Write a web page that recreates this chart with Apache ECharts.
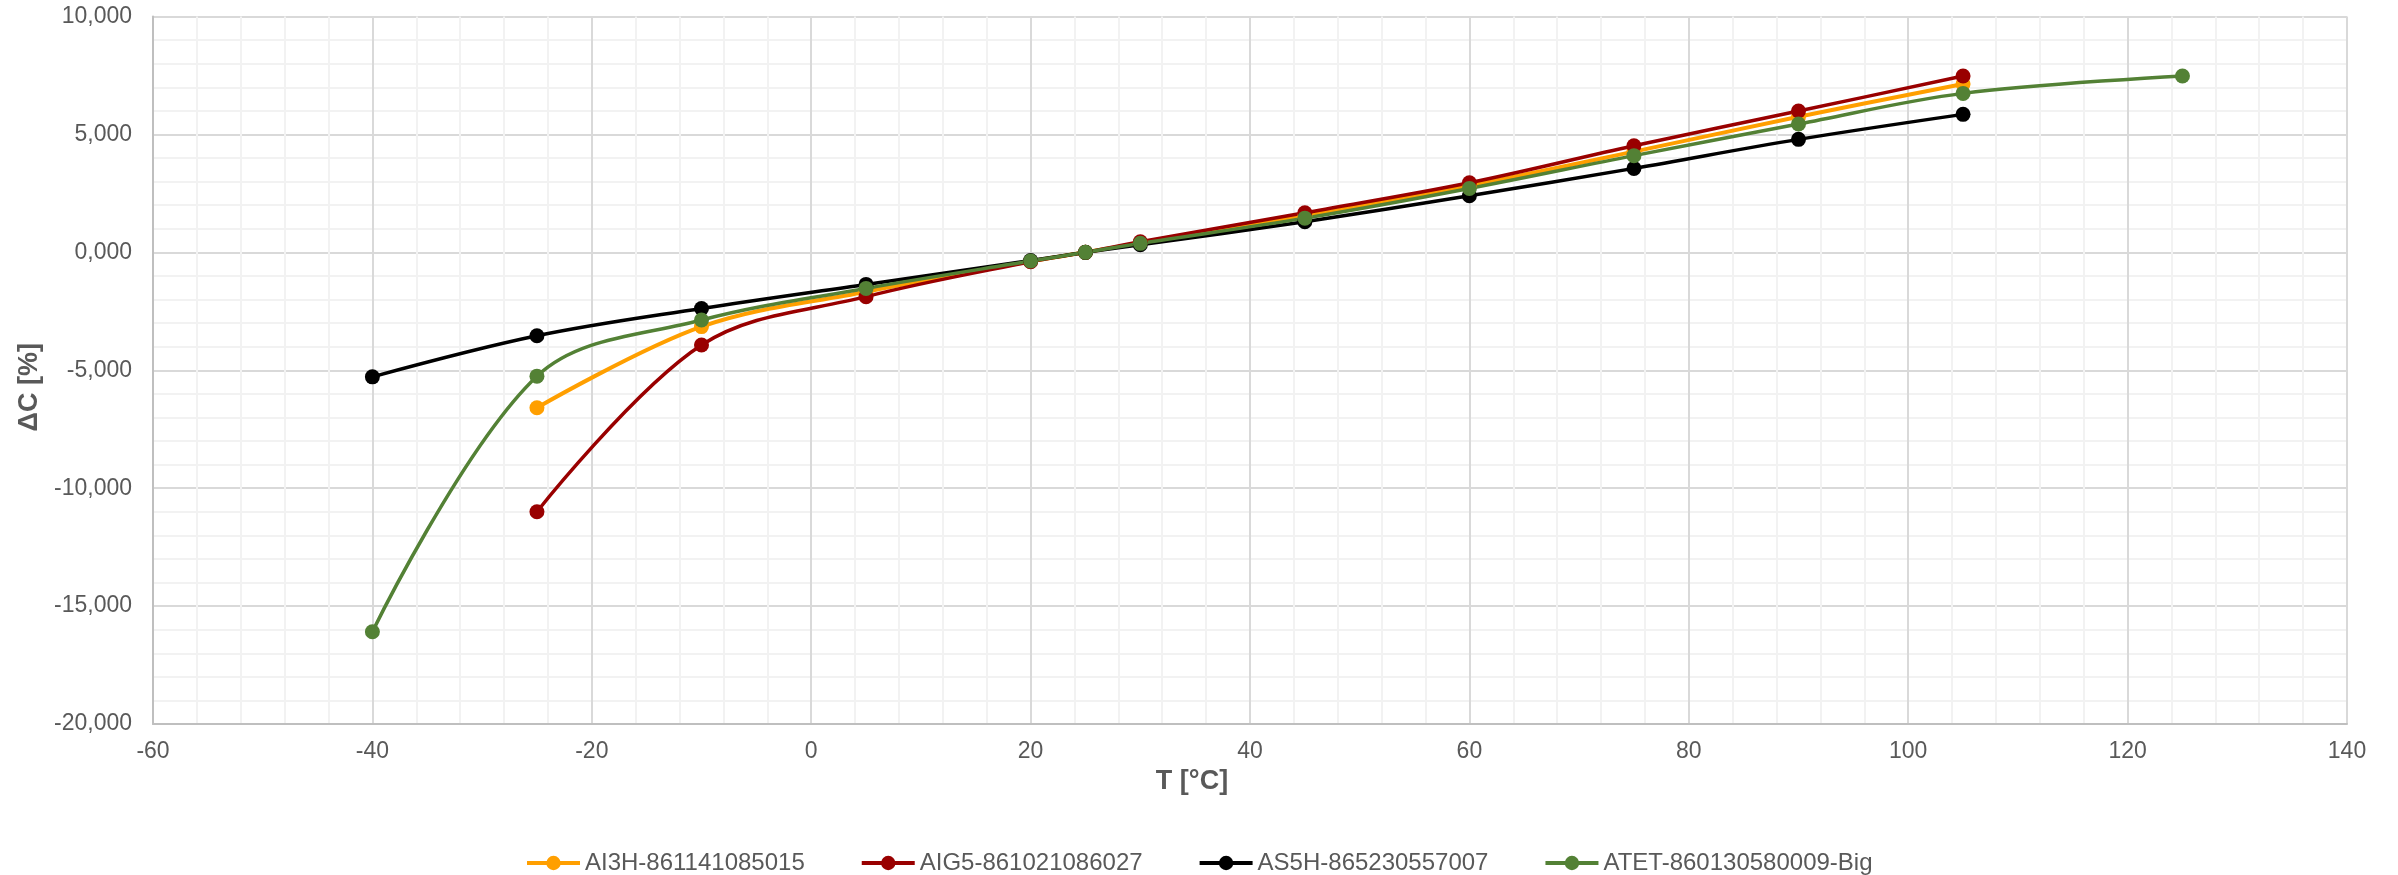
<!DOCTYPE html>
<html>
<head>
<meta charset="utf-8">
<script src="https://cdn.jsdelivr.net/npm/echarts@6/dist/echarts.min.js"></script>
<style>html,body{margin:0;padding:0;background:#fff;}#c{width:2398px;height:875px;}</style>
</head>
<body>
<div id="c"></div>
<script>
// Data (T in °C, ΔC in %)
const seriesNames = ['AI3H-861141085015', 'AIG5-861021086027', 'AS5H-865230557007', 'ATET-860130580009-Big'];
const tempsAI3H = [-25, -10, 5, 20, 25, 30, 45, 60, 75, 90, 105];
const valsAI3H  = [-6.59, -3.15, -1.67, -0.38, 0, 0.40, 1.55, 2.83, 4.27, 5.75, 7.14];
const tempsAIG5 = [-25, -10, 5, 20, 25, 30, 45, 60, 75, 90, 105];
const valsAIG5  = [-11.0, -3.93, -1.88, -0.40, 0, 0.45, 1.68, 2.95, 4.52, 5.99, 7.48];
const tempsAS5H = [-40, -25, -10, 5, 20, 25, 30, 45, 60, 75, 90, 105];
const valsAS5H  = [-5.28, -3.54, -2.38, -1.36, -0.35, 0, 0.32, 1.30, 2.40, 3.56, 4.79, 5.85];
const tempsATET = [-40, -25, -10, 5, 20, 25, 30, 45, 60, 75, 90, 105, 125];
const valsATET  = [-16.09, -5.25, -2.87, -1.53, -0.37, 0, 0.38, 1.45, 2.71, 4.10, 5.44, 6.74, 7.48];
const colors = ['#FF9F00', '#990000', '#000000', '#538135'];

const pairs = (t, v) => t.map((x, i) => [x, v[i]]);
const allData = [pairs(tempsAI3H, valsAI3H), pairs(tempsAIG5, valsAIG5), pairs(tempsAS5H, valsAS5H), pairs(tempsATET, valsATET)];

const FONT = '"Liberation Sans", Arial, sans-serif';
const chart = echarts.init(document.getElementById('c'), null, {renderer: 'canvas'});
chart.setOption({
  animation: false,
  backgroundColor: '#ffffff',
  grid: {left: 153, right: 51, top: 16.5, bottom: 151, containLabel: false},
  legend: {
    left: 520, top: 846,
    itemWidth: 53, itemHeight: 18, itemGap: 55,
    lineStyle: {width: 4},
    textStyle: {fontFamily: FONT, fontSize: 24, color: '#595959'},
    data: seriesNames
  },
  xAxis: {
    type: 'value', min: -60, max: 140, interval: 20,
    name: 'T [°C]', nameLocation: 'middle', nameGap: 36,
    nameTextStyle: {fontFamily: FONT, fontSize: 27, fontWeight: 'bold', color: '#595959', padding: [0, 116, 0, 0]},
    axisLine: {show: true, onZero: false, lineStyle: {color: '#BFBFBF', width: 2}},
    axisTick: {show: false},
    axisLabel: {fontFamily: FONT, fontSize: 23, color: '#595959', margin: 16},
    splitLine: {show: true, lineStyle: {color: '#D9D9D9', width: 2}},
    minorTick: {show: false, splitNumber: 5},
    minorSplitLine: {show: true, lineStyle: {color: '#F2F2F2', width: 2}}
  },
  yAxis: {
    type: 'value', min: -20, max: 10, interval: 5,
    name: 'ΔC [%]', nameLocation: 'middle', nameGap: 110, nameRotate: 90,
    nameTextStyle: {fontFamily: FONT, fontSize: 27, fontWeight: 'bold', color: '#595959', padding: [0, 34, 0, 0]},
    axisLine: {show: true, onZero: false, lineStyle: {color: '#BFBFBF', width: 2}},
    axisTick: {show: false},
    axisLabel: {fontFamily: FONT, fontSize: 23, color: '#595959', margin: 21,
      formatter: v => v.toFixed(3).replace('.', ',')},
    splitLine: {show: true, lineStyle: {color: '#D9D9D9', width: 2}},
    minorTick: {show: false, splitNumber: 5},
    minorSplitLine: {show: true, lineStyle: {color: '#F2F2F2', width: 2}}
  },
  series: seriesNames.map((n, i) => ({
    name: n, type: 'line', data: allData[i],
    smooth: 0.35,
    symbol: 'circle', symbolSize: 15,
    itemStyle: {color: colors[i]},
    lineStyle: {color: colors[i], width: i === 0 ? 4 : 3.5}
  }))
});
</script>
</body>
</html>
